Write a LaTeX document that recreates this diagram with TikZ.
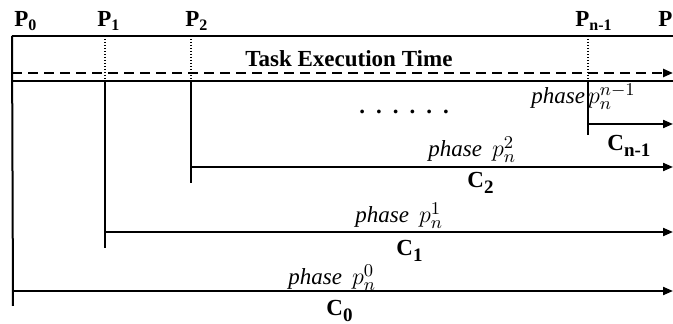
\documentclass[tikz,border=0pt]{standalone}
\usepackage{fontspec}
\setmainfont{Liberation Serif}
\usetikzlibrary{arrows.meta}

\newcommand\psub[1]{\raisebox{-2pt}{\fontsize{8}{9}\selectfont #1}}
\newcommand\csub[1]{\raisebox{-3pt}{\fontsize{9.5}{10}\selectfont #1}}
\newcommand\pmath[1]{{\fontsize{13}{15}\selectfont$p_n^{#1}$}}

\begin{document}
\begin{tikzpicture}[x = 0.5pt, y = -0.5pt]
\tikzstyle{LabelStyle}=[inner sep = 0pt, anchor = base west,
font = \fontsize{11.5}{13}\selectfont\bfseries]
\tikzstyle{PhaseStyle}=[inner sep = 0pt, anchor = base west,
font = \fontsize{11.5}{13}\selectfont]
\tikzstyle{LineStyle}=[line width = 1pt]
\tikzstyle{ArrowStyle}=[line width = 1pt, -{Triangle[length = 5pt, width = 4pt]}]
\tikzstyle{MarkStyle}=[line width = 0.6pt, dash pattern = on 0.6pt off 0.9pt]
\useasboundingbox (0,0) rectangle (673,324);
% points on the time axis
\coordinate (t0) at (12,36);
\coordinate (tn) at (673,36);
\coordinate (d0) at (12,73);
\coordinate (dn) at (673,73);
\coordinate (s0) at (13,81);
\coordinate (sn) at (673,81);
\coordinate (a1) at (105,36);
\coordinate (b1) at (105,81);
\coordinate (a2) at (191,36);
\coordinate (b2) at (191,81);
\coordinate (an) at (588,36);
\coordinate (bn) at (588,81);
\coordinate (e0) at (13,306);
\coordinate (e1) at (105,248);
\coordinate (e2) at (191,183);
\coordinate (en) at (588,135);
\coordinate (c0) at (13,291);
\coordinate (f0) at (673,291);
\coordinate (c1) at (105,232);
\coordinate (f1) at (673,232);
\coordinate (c2) at (191,167);
\coordinate (f2) at (673,167);
\coordinate (cn) at (588,124);
\coordinate (fn) at (673,124);
% labels
\node[LabelStyle] (P0) at (14,27) {P\psub{0}};
\node[LabelStyle] (P1) at (97,27) {P\psub{1}};
\node[LabelStyle] (P2) at (185,27) {P\psub{2}};
\node[LabelStyle] (Pm) at (575,27) {P\psub{n-1}};
\node[LabelStyle] (Pn) at (658,27) {P};
\node[LabelStyle] (task) at (245,67) {Task Execution Time};
\node[LabelStyle] (dots) at (359,114) {.\hspace{5.5pt}.\hspace{5.5pt}.\hspace{5.5pt}.\hspace{5.5pt}.\hspace{5.5pt}.};
\node[PhaseStyle] (phm) at (531,104) {\textit{phase}\hspace{1.5pt}\pmath{n-1}};
\node[PhaseStyle] (ph2) at (428,157) {\textit{phase}\hspace{5pt}\pmath{2}};
\node[PhaseStyle] (ph1) at (355,223) {\textit{phase}\hspace{5pt}\pmath{1}};
\node[PhaseStyle] (ph0) at (288,285) {\textit{phase}\hspace{5pt}\pmath{0}};
\node[LabelStyle] (Cm) at (607,151) {C\csub{n-1}};
\node[LabelStyle] (C2) at (467,188) {C\csub{2}};
\node[LabelStyle] (C1) at (396,256) {C\csub{1}};
\node[LabelStyle] (C0) at (326,316) {C\csub{0}};
% lines
\draw[LineStyle] (t0) -- (tn);
\draw[LineStyle] (s0) -- (sn);
\draw[LineStyle] (t0) -- (e0);
\draw[ArrowStyle, line width = 1.2pt, dash pattern = on 5pt off 3pt] (d0) -- (dn);
\draw[MarkStyle] (a1) -- (b1);
\draw[MarkStyle] (a2) -- (b2);
\draw[MarkStyle] (an) -- (bn);
\draw[LineStyle] (b1) -- (e1);
\draw[LineStyle] (b2) -- (e2);
\draw[LineStyle] (bn) -- (en);
\draw[ArrowStyle] (c0) -- (f0);
\draw[ArrowStyle] (c1) -- (f1);
\draw[ArrowStyle] (c2) -- (f2);
\draw[ArrowStyle] (cn) -- (fn);
\end{tikzpicture}
\end{document}
